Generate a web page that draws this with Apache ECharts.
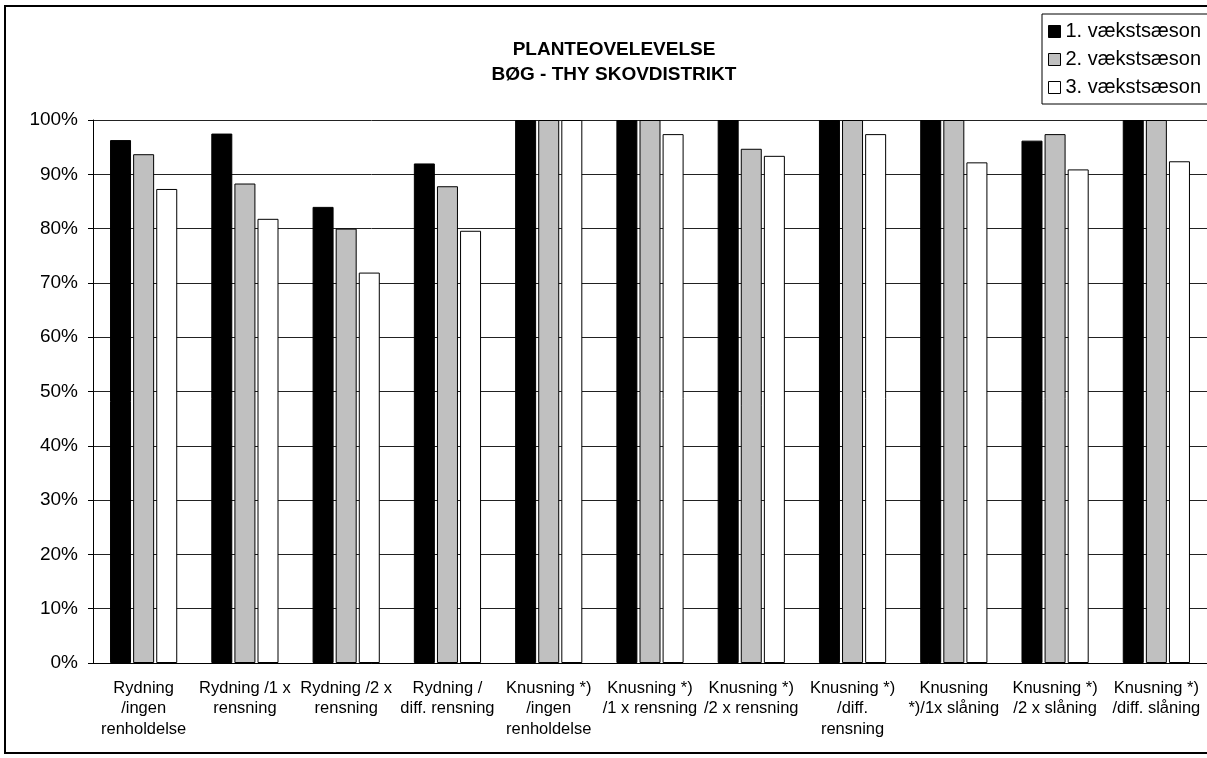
<!DOCTYPE html>
<html>
<head>
<meta charset="utf-8">
<script src="https://cdn.jsdelivr.net/npm/echarts@6/dist/echarts.min.js"></script>
<style>
  html, body { margin: 0; padding: 0; background: #fff; }
  #chart-container { width: 1207px; height: 758px; }
</style>
</head>
<body>
<div id="chart-container"></div>
<script>
var categories = [
    'Rydning\n/ingen\nrenholdelse',
    'Rydning /1 x\nrensning',
    'Rydning /2 x\nrensning',
    'Rydning /\ndiff. rensning',
    'Knusning *)\n/ingen\nrenholdelse',
    'Knusning *)\n/1 x rensning',
    'Knusning *)\n/2 x rensning',
    'Knusning *)\n/diff.\nrensning',
    'Knusning\n*)/1x slåning',
    'Knusning *)\n/2 x slåning',
    'Knusning *)\n/diff. slåning'
];
var season1 = [96.3, 97.5, 84.0, 92.0, 100, 100, 100, 100, 100, 96.2, 100];
var season2 = [93.7, 88.3, 80.0, 87.8, 100, 100, 94.7, 100, 100, 97.4, 100];
var season3 = [87.3, 81.8, 71.9, 79.6, 100, 97.4, 93.4, 97.4, 92.2, 90.9, 92.4];
var seriesNames = ['1. vækstsæson', '2. vækstsæson', '3. vækstsæson'];

var dom = document.getElementById('chart-container');
var myChart = echarts.init(dom, null, {
    renderer: 'canvas',
    useDirtyRect: false
});

var font = 'Liberation Sans, Arial, sans-serif';
var option;

function barSeries(name, values, fill) {
    return {
        name: name,
        type: 'bar',
        data: values,
        barWidth: 21,
        barGap: '10%',
        itemStyle: { color: fill, borderColor: '#000', borderWidth: 1 },
        emphasis: { disabled: true }
    };
}

option = {
    animation: false,
    textStyle: { fontFamily: font, color: '#000' },
    title: {
        text: 'PLANTEOVELEVELSE\nBØG - THY SKOVDISTRIKT',
        left: 609,
        textAlign: 'center',
        top: 32,
        textStyle: { fontSize: 19, fontWeight: 'bold', color: '#000', lineHeight: 25, fontFamily: font }
    },
    legend: {
        data: seriesNames,
        orient: 'vertical',
        left: 1042,
        top: 14,
        icon: 'rect',
        itemWidth: 12,
        itemHeight: 12,
        itemGap: 7,
        padding: [7, 8, 6, 6],
        borderColor: '#000',
        borderWidth: 1,
        backgroundColor: '#fff',
        textStyle: { fontSize: 20, lineHeight: 21, color: '#000', padding: [0, 0, 0, 0], fontFamily: font },
        itemStyle: { borderColor: '#000', borderWidth: 1 }
    },
    graphic: [{
        type: 'rect',
        shape: { x: 5, y: 6, width: 1215, height: 747 },
        style: { fill: null, stroke: '#000', lineWidth: 2 },
        silent: true
    }],
    grid: { left: 93, right: 0, top: 120, bottom: 95 },
    xAxis: {
        type: 'category',
        data: categories,
        axisLine: { lineStyle: { color: '#000' } },
        axisTick: { length: 5, lineStyle: { color: '#000' } },
        axisLabel: { fontSize: 16.5, lineHeight: 20.5, color: '#000', margin: 15, interval: 0, fontFamily: font }
    },
    yAxis: {
        type: 'value',
        min: 0,
        max: 100,
        interval: 10,
        axisLine: { show: true, lineStyle: { color: '#000' } },
        axisTick: { show: true, length: 5, lineStyle: { color: '#000' } },
        axisLabel: { formatter: '{value}%', fontSize: 19, color: '#000', margin: 15, fontFamily: font },
        splitLine: { lineStyle: { color: '#222' } }
    },
    series: [
        barSeries(seriesNames[0], season1, '#000'),
        barSeries(seriesNames[1], season2, '#c0c0c0'),
        barSeries(seriesNames[2], season3, '#fff')
    ]
};

if (option && typeof option === 'object') {
    myChart.setOption(option);
}

window.addEventListener('resize', myChart.resize);
</script>
</body>
</html>
